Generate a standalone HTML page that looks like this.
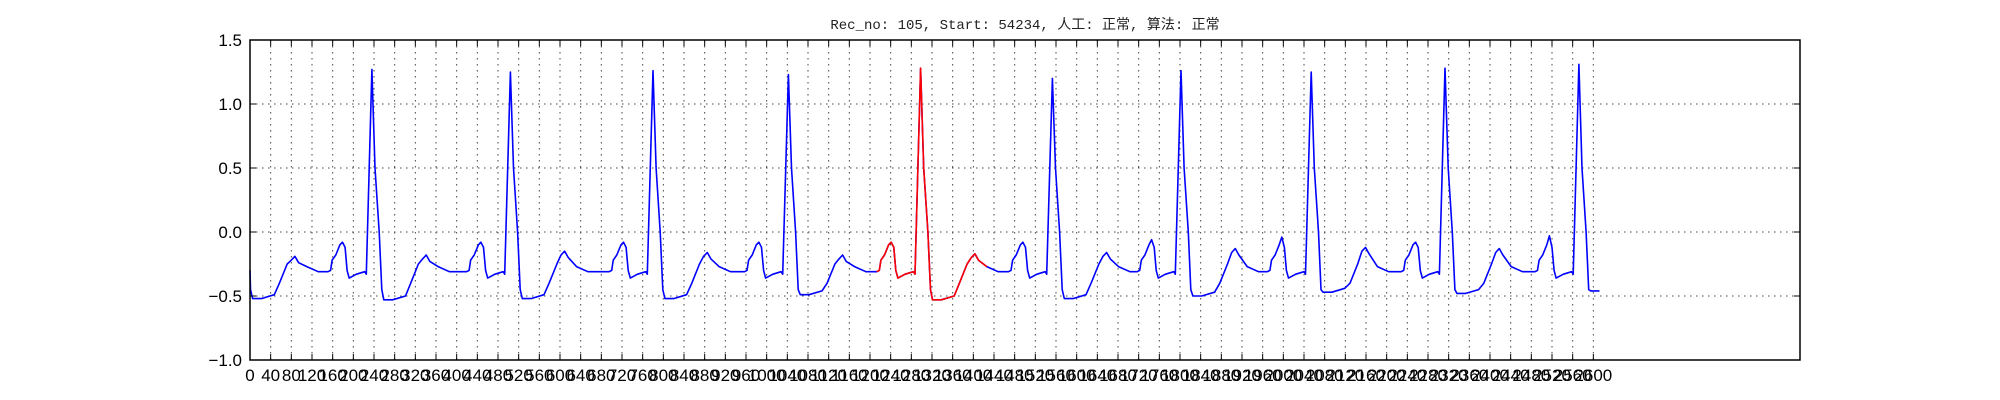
<!DOCTYPE html>
<html><head><meta charset="utf-8"><style>
body{margin:0;background:#fff;}
svg{display:block;font-family:"Liberation Sans","DejaVu Sans",sans-serif;}
</style></head><body>
<svg id="chart" width="2000" height="400" viewBox="0 0 2000 400">
<rect width="2000" height="400" fill="#fff"/>
<text x="1025" y="29" text-anchor="middle" font-size="14" fill="#222" font-family="Liberation Mono, Noto Sans CJK SC, monospace">Rec_no: 105, Start: 54234, 人工: 正常, 算法: 正常</text>
<g id="grid"></g>
<g id="series"></g>
<rect x="250" y="40" width="1550" height="320" fill="none" stroke="#000" stroke-width="1.5"/>
<g id="axes"></g>
</svg>
<script>
const yTicks=[-1.0,-0.5,0.0,0.5,1.0,1.5];
const yTickLabels=["\u22121.0","\u22120.5","0.0","0.5","1.0","1.5"];
const xTickStep=40, xTickMax=2600;
const beatR=[-18,236,504,780,1042,1298,1553,1802,2054,2313,2572];
const rAmp=[1.25,1.27,1.25,1.26,1.23,1.28,1.20,1.26,1.25,1.28,1.31];
const tAmp=[-0.19,-0.18,-0.15,-0.16,-0.18,-0.17,-0.16,-0.13,-0.12,-0.13,-0.13];
const pAmp=[-0.08,-0.08,-0.08,-0.08,-0.08,-0.08,-0.08,-0.06,-0.04,-0.08,-0.03];
const stLevel=[-0.52,-0.53,-0.52,-0.52,-0.49,-0.53,-0.52,-0.50,-0.47,-0.48,-0.46];
const tmplOff=[-85,-80,-77,-70,-62,-57,-52,-48,-44,-30,-14,-11,0,6,14,19,23,40,65,75,90,98,105,112,128,150];
const tmplVal=[-0.31,-0.30,-0.22,-0.18,-0.10,'P',-0.12,-0.30,-0.36,-0.33,-0.31,-0.33,'R',0.5,0.0,-0.45,'S','S','S2',-0.40,-0.25,'T1','T','T2',-0.27,-0.31];
const dataEnd=2636, redStart=1197, redEnd=1437;
const NS='http://www.w3.org/2000/svg';
const X0=250,X1=1800,XMAX=3000,Y0=40,PPU=128,YMAXV=1.5;
function xs(s){return X0+s*(X1-X0)/XMAX;}
function ys(v){return Y0+(YMAXV-v)*PPU;}
function mk(t,a,p){const e=document.createElementNS(NS,t);for(const k in a)e.setAttribute(k,a[k]);p.appendChild(e);return e;}
const grid=document.getElementById('grid'),axes=document.getElementById('axes'),ser=document.getElementById('series');
for(let i=0;i<yTicks.length;i++){
 const y=ys(yTicks[i]);
 const g=mk('line',{x1:X0,x2:X1,y1:y,y2:y,stroke:'#444','stroke-width':1,'stroke-dasharray':'1.5,4.5'},grid);
 
 
 mk('line',{x1:X0,x2:X0+6,y1:y,y2:y,stroke:'#000'},axes);
 mk('line',{x1:X1,x2:X1-6,y1:y,y2:y,stroke:'#000'},axes);
 const t=mk('text',{x:X0-8,y:y+6,'text-anchor':'end','font-size':17,fill:'#000'},axes);
 t.textContent=yTickLabels[i];
 
 
}
for(let s=0;s<=xTickMax;s+=xTickStep){
 const x=xs(s);
 const g=mk('line',{x1:x,x2:x,y1:Y0,y2:360,stroke:'#444','stroke-width':1,'stroke-dasharray':'1.5,4.5'},grid);
 
 
 mk('line',{x1:x,x2:x,y1:360,y2:354,stroke:'#000'},axes);
 mk('line',{x1:x,x2:x,y1:40,y2:46,stroke:'#000'},axes);
 const t=mk('text',{x:x,y:381,'text-anchor':'middle','font-size':17,fill:'#000'},axes);
 t.textContent=String(s);
 
 
}
const pts=[];
for(let b=0;b<beatR.length;b++){
 for(let k=0;k<tmplOff.length;k++){
  const s=beatR[b]+tmplOff[k];
  if(s<0||s>dataEnd)continue;
  let v=tmplVal[k];
  if(v==='P')v=pAmp[b];else if(v==='R')v=rAmp[b];else if(v==='S')v=stLevel[b];
  else if(v==='S2')v=stLevel[b]+0.03;else if(v==='T')v=tAmp[b];
  else if(v==='T1')v=tAmp[b]-0.03;else if(v==='T2')v=tAmp[b]-0.05;
  pts.push([s,v]);
 }
}
pts.unshift([0,-0.3]);
function pathOf(arr){return arr.map((p,i)=>(i?'L':'M')+xs(p[0]).toFixed(1)+','+ys(p[1]).toFixed(1)).join('');}
const blue=mk('path',{d:pathOf(pts),fill:'none',stroke:'#0000ff','stroke-width':1.6,'stroke-linejoin':'round'},ser);


const redPts=pts.filter(p=>p[0]>=redStart&&p[0]<=redEnd);
const red=mk('path',{d:pathOf(redPts),fill:'none',stroke:'#ff0000','stroke-width':1.6,'stroke-linejoin':'round'},ser);


</script>
</body></html>
